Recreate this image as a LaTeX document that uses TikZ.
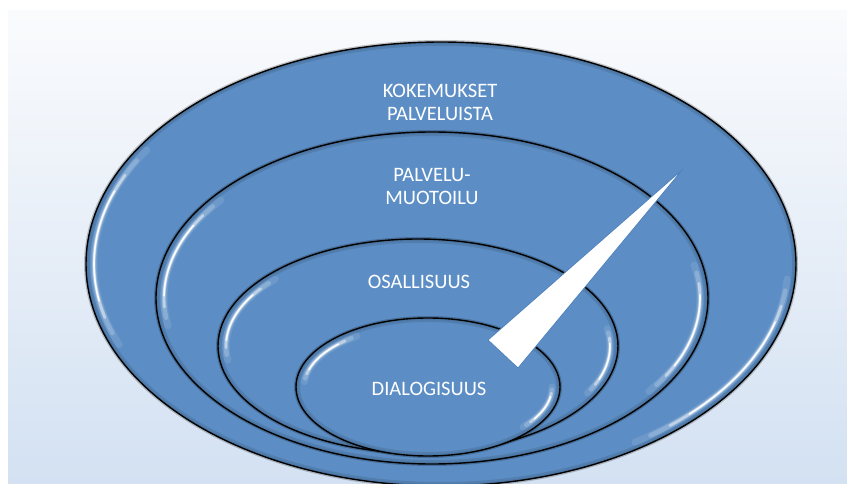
\documentclass[tikz,border=0pt]{standalone}
\usepackage{fontspec}
\setmainfont{Carlito}
\definecolor{ringblue}{RGB}{92,142,197}
\definecolor{bgtop}{RGB}{250,251,253}
\definecolor{bgbottom}{RGB}{211,225,242}
\definecolor{wedgeblue}{RGB}{79,129,189}

% soft white highlight along part of an ellipse: cx, cy, rx, ry, from angle, to angle
\newcommand\glossarc[6]{%
  \pgfmathsetmacro\gm{(#5+#6)/2}%
  \pgfmathsetmacro\gh{(#6-#5)/2}%
  \foreach \w/\o/\f in {7/0.10/1, 4.5/0.20/0.88, 2.8/0.45/0.72, 1.6/0.95/0.55}{%
    \pgfmathsetmacro\sa{\gm-\gh*\f}%
    \pgfmathsetmacro\sb{\gm+\gh*\f}%
    \draw[white, opacity=\o, line width=\w, line cap=round]
      (#1,#2) ++(\sa:#3 and #4) arc[start angle=\sa, end angle=\sb, x radius=#3, y radius=#4];
  }%
}

% one glossy ring: cx, cy, rx, ry, left highlight angles, right highlight angles
\newcommand\glossyring[8]{%
  \draw[black, opacity=0.22, line width=4] (#1,#2) ellipse[x radius=#3, y radius=#4];
  \fill[ringblue] (#1,#2) ellipse[x radius=#3, y radius=#4];
  \begin{scope}
    \clip (#1,#2) ellipse[x radius=#3, y radius=#4];
    \draw[black, opacity=0.10, line width=8] (#1,#2) ellipse[x radius=#3, y radius=#4];
    \draw[black, opacity=0.08, line width=4] (#1,#2) ellipse[x radius=#3, y radius=#4];
    \pgfmathsetmacro\irx{#3-8}\pgfmathsetmacro\iry{#4-7}
    \glossarc{#1}{#2}{\irx}{\iry}{#5}{#6}
    \glossarc{#1}{#2}{\irx}{\iry}{#7}{#8}
  \end{scope}
  \draw[black, line width=1.4] (#1,#2) ellipse[x radius=#3, y radius=#4];
}

\begin{document}
\begin{tikzpicture}[x=1pt, y=-1pt,
  lbl/.style={text=white, font=\fontsize{20.5}{23}\selectfont, align=center, inner sep=0pt}]
  \useasboundingbox (0,0) rectangle (847,484);
  \clip (0,0) rectangle (847,484);

  % page background
  \fill[white] (0,0) rectangle (847,484);
  \shade[top color=bgtop, bottom color=bgbottom] (8,11) rectangle (847,484);

  % nested rings, outermost first
  \glossyring{441}{264}{355}{222}{158}{212}{4}{56}
  \glossyring{432}{298}{276}{166}{170}{218}{-12}{36}
  \glossyring{418}{346}{200}{107}{172}{222}{-10}{28}
  \glossyring{428}{387}{132}{69}{185}{235}{0}{40}

  % ring captions
  \node[lbl] (kokemukset) at (440,102) {KOKEMUKSET\\PALVELUISTA};
  \node[lbl] (muotoilu) at (432,186) {PALVELU-\\MUOTOILU};
  \node[lbl] (osallisuus) at (419,282) {OSALLISUUS};
  \node[lbl] (dialogisuus) at (429,389) {DIALOGISUUS};

  % pointer wedge
  \coordinate (tip) at (683,169);
  \coordinate (baseA) at (488,340);
  \coordinate (baseB) at (518,368);
  \draw[fill=white, draw=wedgeblue, line width=0.8] (tip) -- (baseA) -- (baseB) -- cycle;
\end{tikzpicture}
\end{document}
